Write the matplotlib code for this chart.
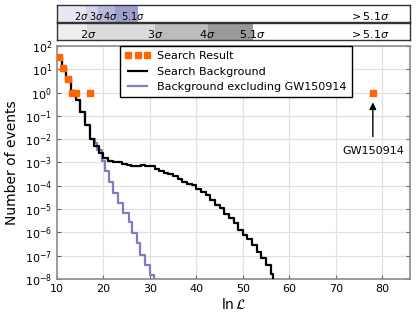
import numpy as np
import matplotlib
matplotlib.use("Agg")
import matplotlib.pyplot as plt

# ---- data ----
bg_x = [10, 11, 12, 13, 14, 15, 16, 17, 18, 19, 20, 21, 22, 23, 24, 25, 26, 27, 28, 29,
        30, 31, 32, 33, 34, 35, 36, 37, 38, 39, 40, 41, 42, 43, 44, 45, 46, 47, 48, 49,
        50, 51, 52, 53, 54, 55, 56, 56.6]
bg_y = [30, 12, 4, 1.2, 0.5, 0.15, 0.04, 0.01, 5e-3, 2.5e-3, 1.6e-3, 1.15e-3, 1.05e-3,
        1.0e-3, 9e-4, 8e-4, 7.2e-4, 7.2e-4, 7.5e-4, 7.3e-4, 6.8e-4, 5.2e-4, 4.1e-4,
        3.7e-4, 3.2e-4, 2.6e-4, 1.9e-4, 1.5e-4, 1.25e-4, 1.05e-4, 7.5e-5, 5.5e-5,
        4.2e-5, 2.4e-5, 1.5e-5, 1.1e-5, 6e-6, 4e-6, 2.5e-6, 1.3e-6, 8e-7, 5e-7,
        2.8e-7, 1.5e-7, 8e-8, 4e-8, 1.6e-8, 1e-10]

ex_x = [10, 11, 12, 13, 14, 15, 16, 17, 18.2, 18.6, 19.6, 20.3, 21.1, 22.1, 23.2, 24.3,
        25.4, 26.1, 27.2, 27.9, 29.0, 30.0, 30.8]
ex_y = [30, 12, 4, 1.2, 0.5, 0.15, 0.04, 0.01, 7e-3, 3.5e-3, 1.1e-3, 4.1e-4, 1.5e-4,
        4.8e-5, 1.8e-5, 6.6e-6, 2.9e-6, 9.3e-7, 3.5e-7, 1.07e-7, 4.1e-8, 1.5e-8, 1e-10]

res_x = [10.4, 11.3, 12.3, 13.2, 14.0, 17.0, 78.0]
res_y = [34, 11.5, 4, 1, 1, 1, 1]

bar1_edges = [10, 16.25, 18.77, 22.5, 27.4]
bar1_colors = ['#e8e8f5', '#d2d2ea', '#b8b8dc', '#9e9ecf']
bar1_labels = [r'$2\sigma$', r'$3\sigma$', r'$4\sigma$', r'$5.1\sigma$', r'$>5.1\sigma$']
bar1_label_x = [15.3, 18.55, 21.4, 26.3, 77.2]

bar2_edges = [10, 16.4, 31.1, 42.5, 52.2]
bar2_colors = ['#eeeeee', '#dbdbdb', '#bcbcbc', '#999999']
bar2_labels = [r'$2\sigma$', r'$3\sigma$', r'$4\sigma$', r'$5.1\sigma$', r'$>5.1\sigma$']
bar2_label_x = [16.7, 31.2, 42.4, 52.0, 77.2]

XMIN, XMAX = 10, 86

fig = plt.figure(figsize=(4.16, 3.17), dpi=100)
ax = fig.add_axes([0.137, 0.12, 0.8486, 0.735])

ax.step(bg_x, bg_y, where='post', color='black', lw=1.6, label='Search Background', zorder=3)
ax.step(ex_x, ex_y, where='post', color='#7f7cc4', lw=1.6,
        label='Background excluding GW150914', zorder=2)
ax.plot(res_x, res_y, 's', color='#ff6600', ms=5, label='Search Result', zorder=4,
        linestyle='none')

ax.set_yscale('log')
ax.set_xlim(XMIN, XMAX)
ax.set_ylim(1e-8, 1e2)
ax.set_yticks([10.0**k for k in range(-8, 3)])
ax.set_xticks([10, 20, 30, 40, 50, 60, 70, 80])
ax.grid(True, which='major', color='0.88', lw=0.9)
ax.set_axisbelow(True)
ax.tick_params(which='both', direction='in', right=True, top=False, labelsize=8,
               color='0.4')
ax.tick_params(which='major', length=3)
ax.tick_params(which='minor', length=1.5)
for s in ax.spines.values():
    s.set_color('0.55')
    s.set_linewidth(1.2)
ax.set_ylabel('Number of events', fontsize=10)
ax.set_xlabel(r'$\ln\mathcal{L}$', fontsize=10, labelpad=2)

h, l = ax.get_legend_handles_labels()
order = [2, 0, 1]
leg = ax.legend([h[i] for i in order], [l[i] for i in order], loc='upper left',
                bbox_to_anchor=(0.178, 1.0), borderaxespad=0, fontsize=8,
                numpoints=3, fancybox=False, framealpha=1, edgecolor='black',
                handlelength=2.3, handletextpad=0.6, borderpad=0.45)
leg.get_frame().set_linewidth(1.0)

ax.annotate('GW150914', xy=(78, 0.38), xytext=(78, 3e-3), ha='center', va='center',
            fontsize=8,
            arrowprops=dict(arrowstyle='-|>', color='black', lw=1, mutation_scale=10,
                            shrinkA=5, shrinkB=0))


def make_bar(rect, edges, colors, labels, label_x, fs_small):
    b = fig.add_axes(rect)
    b.set_xlim(XMIN, XMAX)
    b.set_ylim(0, 1)
    for i in range(len(colors)):
        b.axvspan(edges[i], edges[i + 1], color=colors[i], lw=0)
    for k, (t, xx) in enumerate(zip(labels, label_x)):
        fs = fs_small if k < len(labels) - 1 else 8
        b.text(xx, 0.38, t, ha='center', va='center', fontsize=fs)
    b.set_xticks([])
    b.set_yticks([])
    for s in b.spines.values():
        s.set_color('0.2')
        s.set_linewidth(1.0)
    return b


make_bar([0.137, 0.9306, 0.8486, 0.0536], bar1_edges, bar1_colors, bar1_labels,
         bar1_label_x, 7)
make_bar([0.137, 0.8738, 0.8486, 0.0536], bar2_edges, bar2_colors, bar2_labels,
         bar2_label_x, 8)

fig.savefig('out.png', dpi=100)
